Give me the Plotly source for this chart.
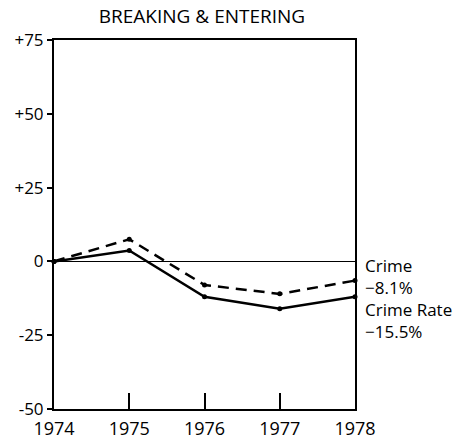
import plotly.graph_objects as go

years = [1974, 1975, 1976, 1977, 1978]
crime = [0, 7.5, -8.0, -11.0, -6.5]
crime_rate = [0, 3.7, -12.0, -16.0, -12.0]
ytick_vals = [75, 50, 25, 0, -25, -50]
ytick_text = ["+75", "+50", "+25", "0", "-25", "-50"]
labels = ["Crime", "\u22128.1%", "Crime Rate", "\u221215.5%"]

FONT = "Open Sans"
W, H = 465, 435

fig = go.Figure()
fig.add_trace(go.Scatter(x=years, y=crime, mode="lines+markers",
                         line=dict(color="black", width=2.5, dash="11px,7px"),
                         marker=dict(color="black", size=5), showlegend=False, cliponaxis=False))
fig.add_trace(go.Scatter(x=years, y=crime_rate, mode="lines+markers",
                         line=dict(color="black", width=2.5),
                         marker=dict(color="black", size=5), showlegend=False, cliponaxis=False))

fig.add_annotation(x=1978, y=-12.7, xref="x", yref="y", text="<br>".join(labels), showarrow=False,
                   xanchor="left", yanchor="middle", align="left", xshift=8,
                   font=dict(family=FONT, size=17, color="black"))

fig.update_layout(
    width=W, height=H,
    margin=dict(l=46, r=118, t=32, b=34, autoexpand=False),
    paper_bgcolor="white", plot_bgcolor="white",
    title=dict(text="BREAKING & ENTERING", x=194/W, xanchor="center", y=1, yanchor="top",
               pad=dict(t=2, b=0), font=dict(family=FONT, size=19, color="black")),
    font=dict(family=FONT, color="black"),
)
fig.update_xaxes(range=[1974, 1978], tickvals=years, ticktext=[str(y) for y in years],
                 ticks="inside", ticklen=16, tickwidth=1.5, tickcolor="black",
                 showline=True, linecolor="black", linewidth=2, mirror=True, automargin=False,
                 ticklabelstandoff=2,
                 showgrid=False, zeroline=False, tickfont=dict(family=FONT, size=18, color="black"))
fig.update_yaxes(range=[-50, 75], tickvals=ytick_vals, ticktext=ytick_text,
                 ticks="outside", ticklen=5, tickwidth=1.5, tickcolor="black",
                 showline=True, linecolor="black", linewidth=2, mirror=True, automargin=False,
                 showgrid=False, zeroline=True, zerolinecolor="black", zerolinewidth=1,
                 tickfont=dict(family=FONT, size=17, color="black"))

fig.write_html("out.html")
